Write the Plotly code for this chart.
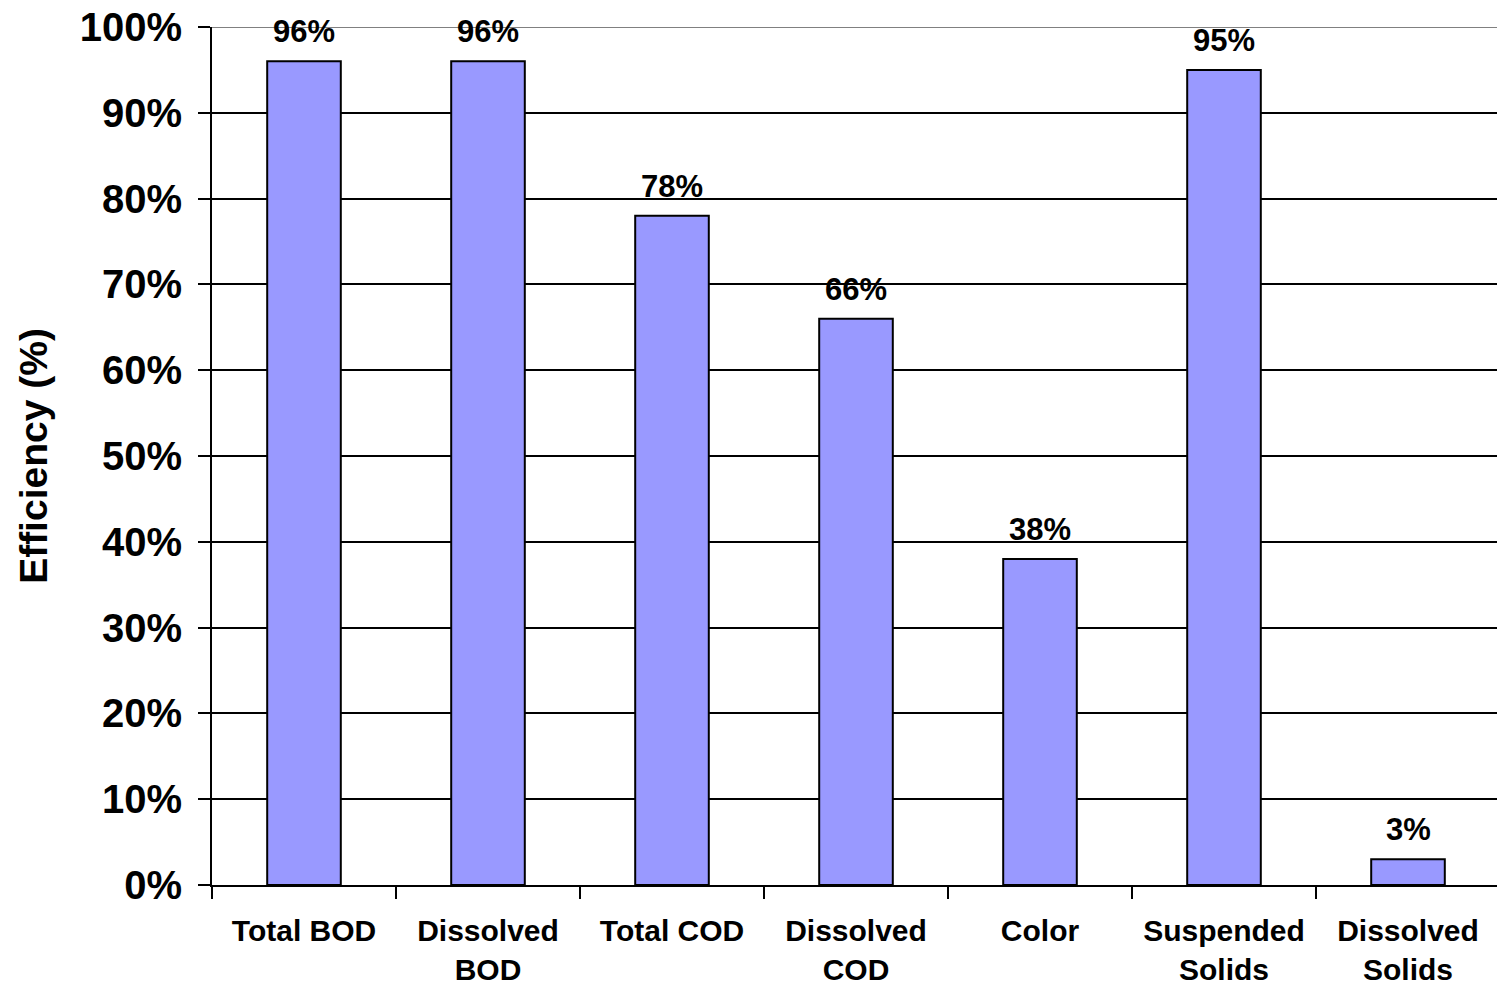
import plotly.graph_objects as go

categories = ["Total BOD", "Dissolved<br>BOD", "Total COD", "Dissolved<br>COD",
              "Color", "Suspended<br>Solids", "Dissolved<br>Solids"]
efficiency = [96, 96, 78, 66, 38, 95, 3]
labels = [f"{v}%" for v in efficiency]
y_ticks = list(range(0, 101, 10))
y_tick_text = [f"{t}%" for t in y_ticks]

FONT = "Liberation Sans, Arial, sans-serif"

fig = go.Figure()
fig.add_trace(go.Bar(
    x=categories,
    y=efficiency,
    width=0.4,
    marker=dict(color="#9999FF", line=dict(color="black", width=2)),
    showlegend=False,
    hoverinfo="skip",
))

for c, v, t in zip(categories, efficiency, labels):
    fig.add_annotation(x=c, y=v, text=t, showarrow=False, yanchor="bottom",
                       yshift=10, font=dict(family=FONT, size=31, color="black", weight="bold"))

fig.add_shape(type="line", xref="paper", yref="y", x0=0, x1=1, y0=100, y1=100,
              line=dict(color="#808080", width=2), layer="above")

W, H = 1497, 990
L, R, T, B = 212, 0, 27, 105
plot_w = W - L - R
cat_px = 184
fig.update_layout(
    width=W, height=H,
    margin=dict(l=L, r=R, t=T, b=B),
    paper_bgcolor="white", plot_bgcolor="white",
    font=dict(family=FONT, color="black", weight="bold"),
    xaxis=dict(
        type="category", automargin=False,
        range=[-0.5, -0.5 + plot_w / cat_px],
        tickson="boundaries", ticks="outside", ticklen=12, tickwidth=2, tickcolor="black",
        ticklabelstandoff=18,
        showline=True, linecolor="black", linewidth=2,
        showgrid=False, zeroline=False,
        tickfont=dict(family=FONT, size=30, color="black", weight="bold"),
    ),
    yaxis=dict(
        range=[0, 100], automargin=False,
        tickmode="array", tickvals=y_ticks, ticktext=y_tick_text,
        ticks="outside", ticklen=12, tickwidth=2, tickcolor="black",
        ticklabelstandoff=8,
        showline=True, linecolor="black", linewidth=2,
        showgrid=True, gridcolor="black", gridwidth=2,
        zeroline=False,
        tickfont=dict(family=FONT, size=40, color="black", weight="bold"),
        title=dict(text="Efficiency (%)", standoff=20,
                   font=dict(family=FONT, size=39, color="black", weight="bold")),
    ),
)

fig.write_html("out.html")
